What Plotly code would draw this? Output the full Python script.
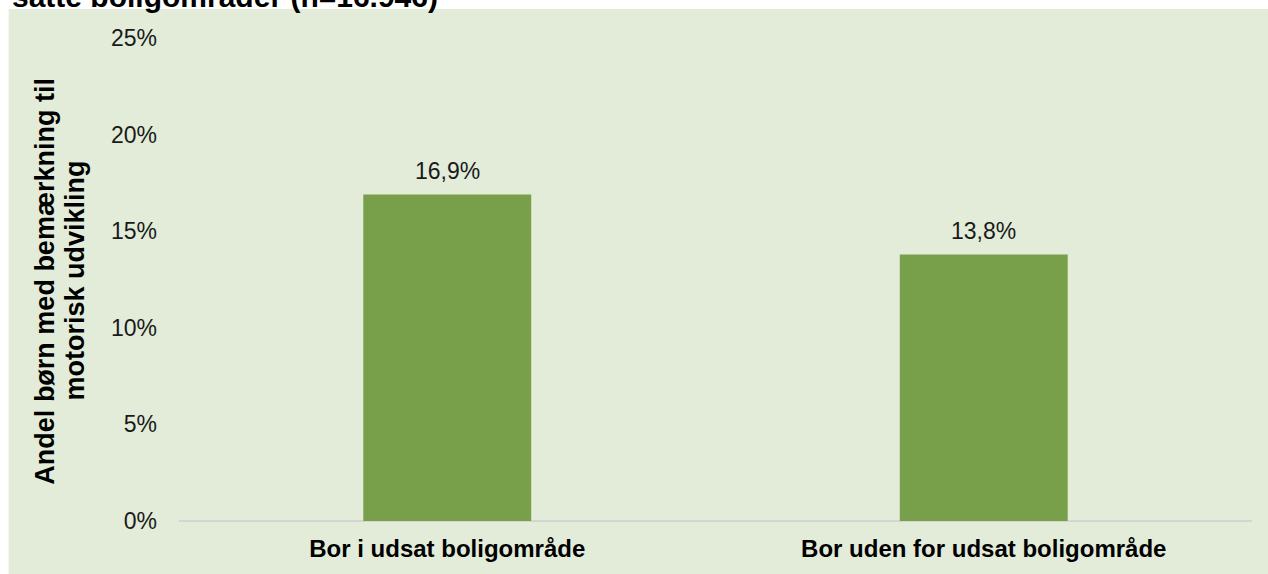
import plotly.graph_objects as go

categories = ["Bor i udsat boligområde", "Bor uden for udsat boligområde"]
values = [16.9, 13.8]
value_labels = ["16,9%", "13,8%"]
y_ticks = [0, 5, 10, 15, 20, 25]
y_tick_labels = ["0%", "5%", "10%", "15%", "20%", "25%"]
y_title_lines = ["Andel børn med bemærkning til", "motorisk udvikling"]

W, H = 1268, 574
ml, mr, mt, mb = 178.5, 15.5, 38, 53
pw = W - ml - mr
ph = H - mt - mb
FONT = "Arial, Liberation Sans, sans-serif"


def px(x):
    return (x - ml) / pw


def py(y):
    return (H - mb - y) / ph


fig = go.Figure()
fig.add_trace(go.Bar(
    x=categories, y=values,
    marker=dict(color="#78A04A", line=dict(width=0)),
    width=0.313,
    cliponaxis=False,
))

for c, v, t in zip(categories, values, value_labels):
    fig.add_annotation(x=c, y=v, text=t, showarrow=False, yanchor="bottom",
                       yshift=8, font=dict(family=FONT, size=23, color="#1a1a1a"))

# background panel
fig.add_shape(type="rect", xref="paper", yref="paper",
              x0=px(8), x1=px(W + 5), y0=py(H + 5), y1=py(9),
              fillcolor="#E2ECD9", line=dict(width=0), layer="below")

fig.add_annotation(
    text="<b>satte boligområder (n=16.946)</b>",
    xref="paper", yref="paper",
    x=px(9), xanchor="left",
    y=py(15), yanchor="bottom",
    showarrow=False,
    font=dict(family=FONT, size=30, color="#000000"),
)

# y-axis title (two rotated lines)
for line, xc in zip(y_title_lines, [44, 74]):
    fig.add_annotation(
        text="<b>" + line + "</b>",
        xref="paper", yref="paper",
        x=px(xc), xanchor="center",
        y=py(281), yanchor="middle",
        textangle=-90, showarrow=False,
        font=dict(family=FONT, size=27, color="#000000"),
    )

fig.update_layout(
    width=W, height=H,
    margin=dict(l=ml, r=mr, t=mt, b=mb, pad=0),
    paper_bgcolor="white",
    plot_bgcolor="rgba(0,0,0,0)",
    showlegend=False,
    bargap=0.687,
    xaxis=dict(
        showgrid=False, showline=False, zeroline=False,
        ticks="", ticklabelstandoff=11,
        tickfont=dict(family=FONT, size=24, color="#000000", weight="bold"),
    ),
    yaxis=dict(
        range=[0, 25], tickvals=y_ticks, ticktext=y_tick_labels,
        showgrid=False, showline=False,
        zeroline=True, zerolinecolor="#D4D4D4", zerolinewidth=2,
        ticks="", ticklabelstandoff=21,
        tickfont=dict(family=FONT, size=23, color="#1a1a1a"),
    ),
)

fig.write_html("out.html", post_script="document.body.style.margin='0';",
               config={"displayModeBar": False})
